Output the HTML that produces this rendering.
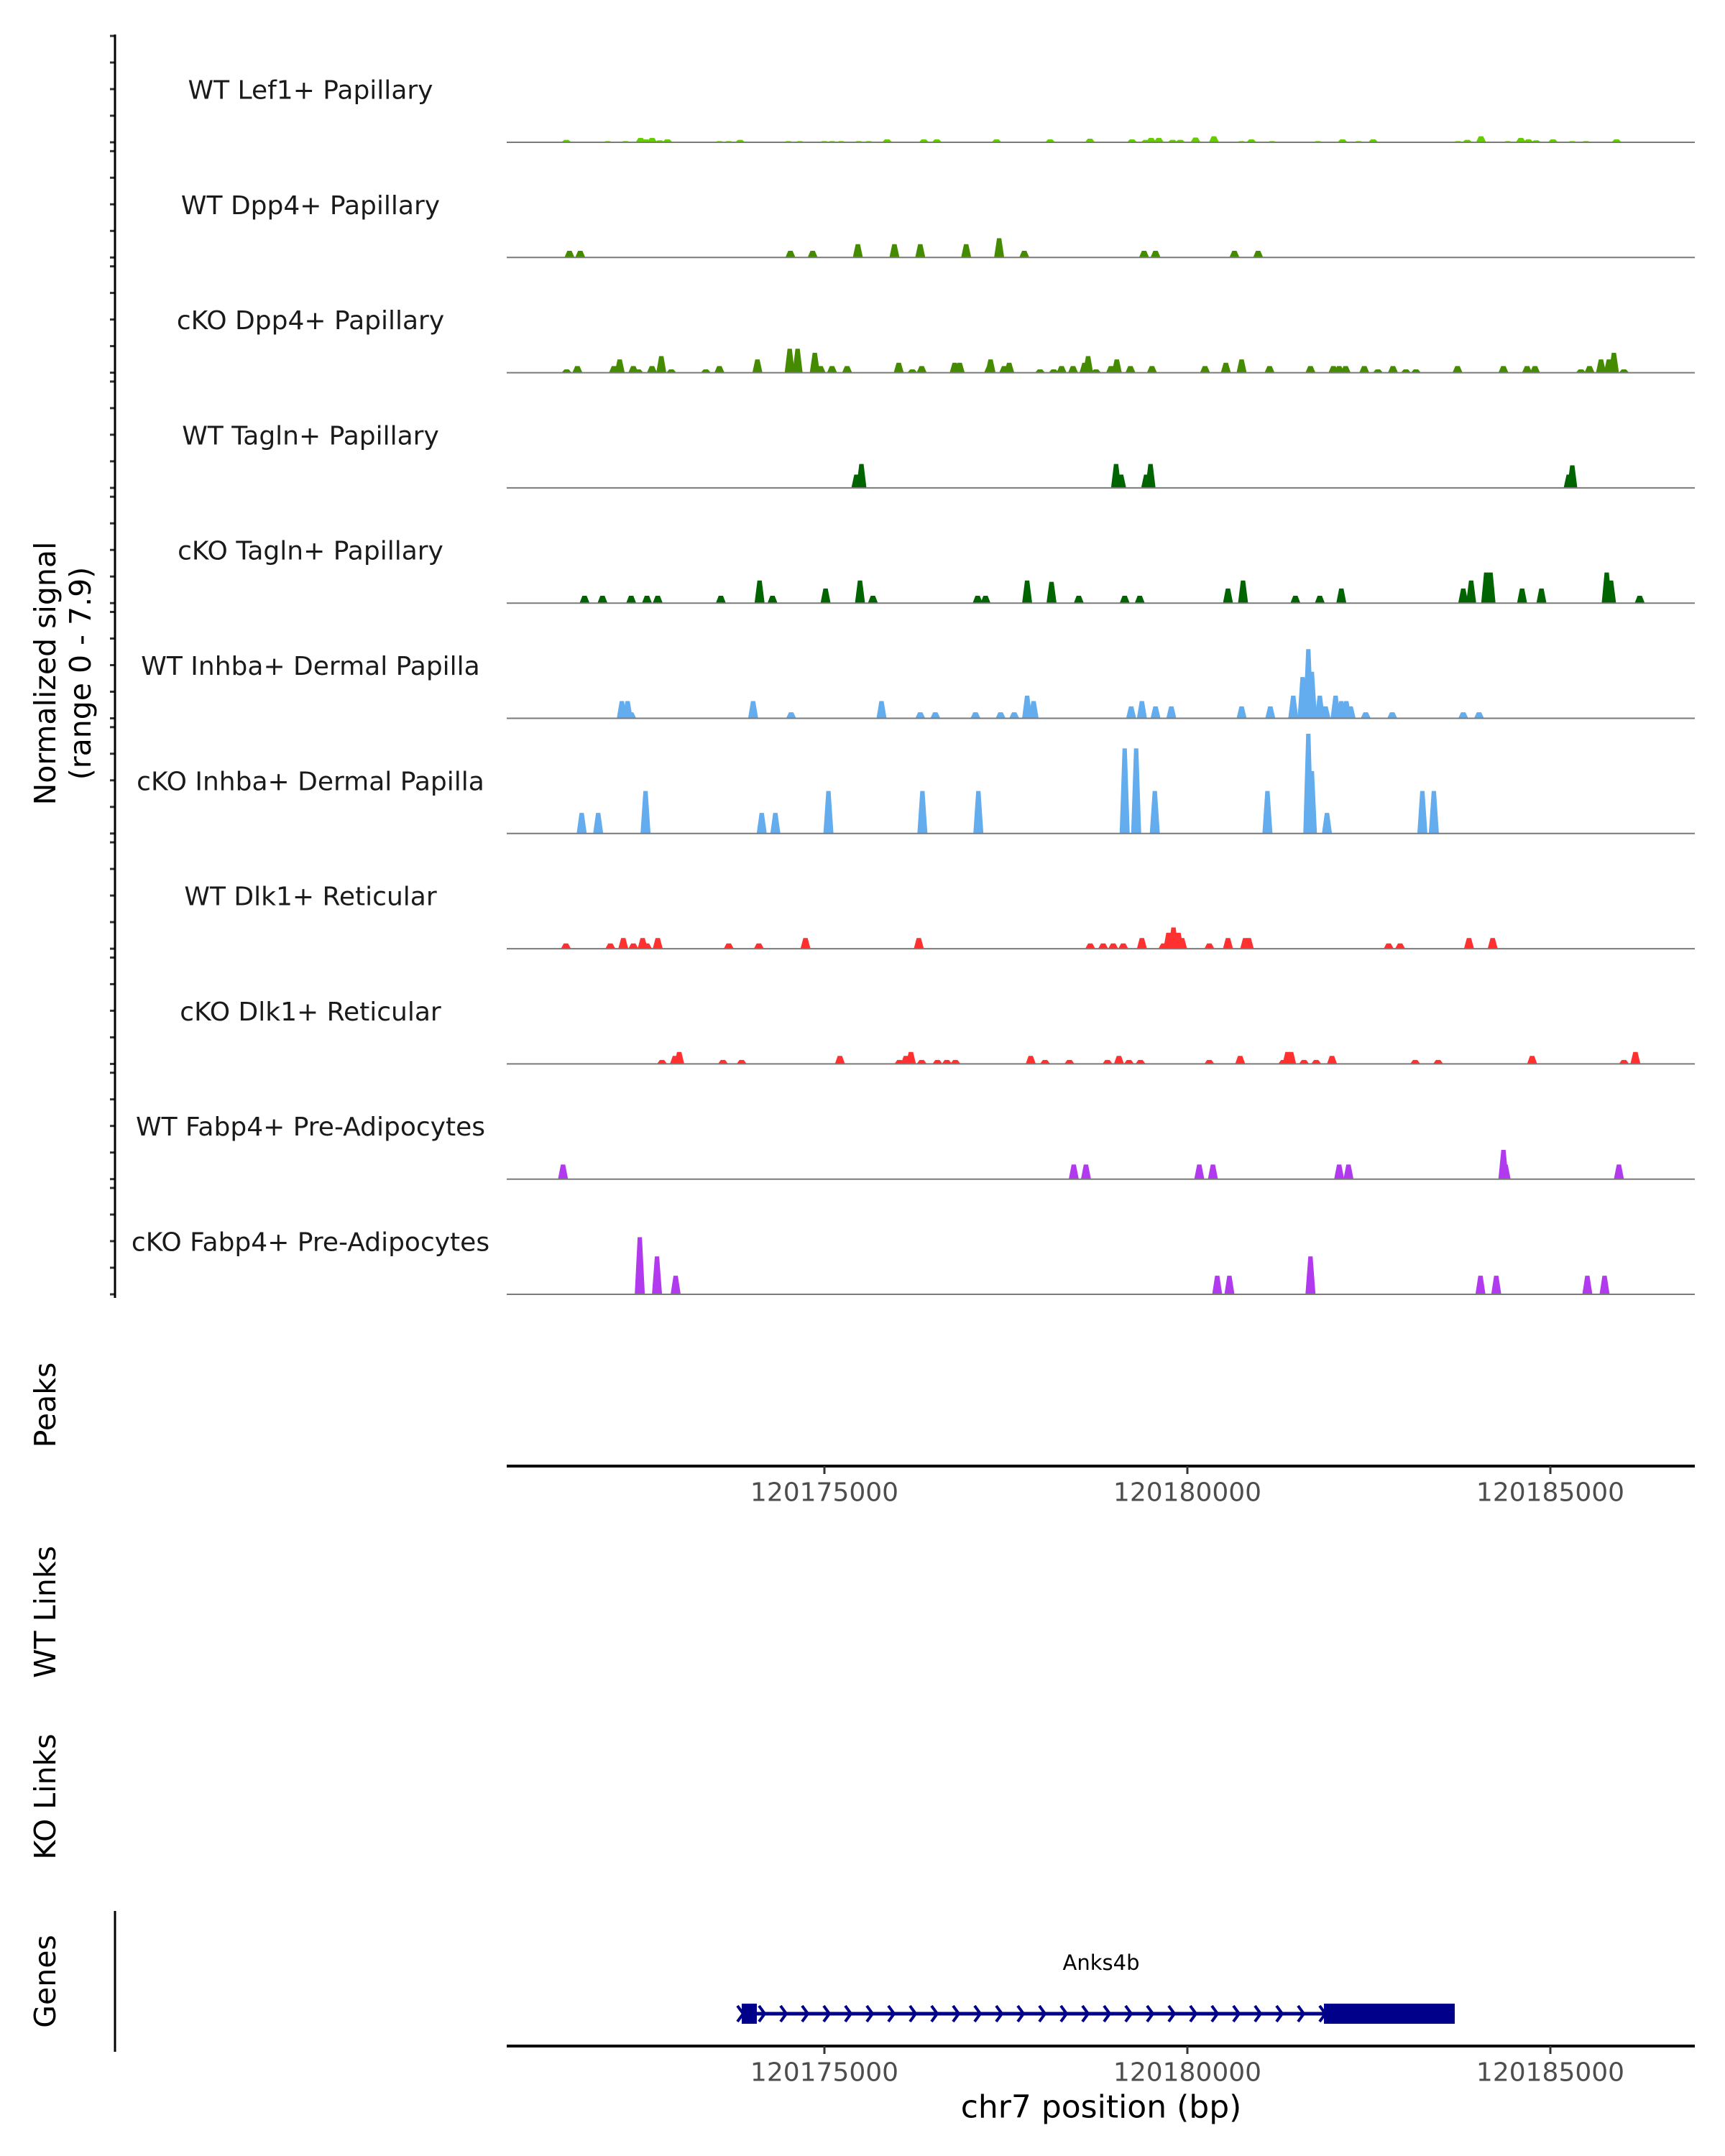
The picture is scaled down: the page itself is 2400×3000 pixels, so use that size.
<!DOCTYPE html>
<html><head><meta charset="utf-8"><style>
html,body{margin:0;padding:0;background:#fff;}
svg{display:block;font-family:"DejaVu Sans","Liberation Sans",sans-serif;}
</style></head><body>
<svg id="chart" width="2400" height="3000" viewBox="0 0 2400 3000" xmlns="http://www.w3.org/2000/svg">
<g id="tracks"></g>
<g>
<text x="63" y="937" font-size="41" text-anchor="middle" dominant-baseline="central" transform="rotate(-90 63 937)" fill="#000">Normalized signal</text>
<text x="112" y="937" font-size="41" text-anchor="middle" dominant-baseline="central" transform="rotate(-90 112 937)" fill="#000">(range 0 - 7.9)</text>
</g>
<line x1="160" y1="48" x2="160" y2="1806" stroke="#000" stroke-width="3"/>
<text x="63" y="1955" font-size="41" text-anchor="middle" dominant-baseline="central" transform="rotate(-90 63 1955)">Peaks</text>
<text x="63" y="2243" font-size="41" text-anchor="middle" dominant-baseline="central" transform="rotate(-90 63 2243)">WT Links</text>
<text x="63" y="2500" font-size="41" text-anchor="middle" dominant-baseline="central" transform="rotate(-90 63 2500)">KO Links</text>
<text x="63" y="2757" font-size="41" text-anchor="middle" dominant-baseline="central" transform="rotate(-90 63 2757)">Genes</text>
<line x1="160" y1="2659" x2="160" y2="2855" stroke="#000" stroke-width="3"/>
<g id="xaxes"></g>
<g id="gene"></g>
<text x="1532" y="2932" font-size="44" text-anchor="middle" dominant-baseline="central">chr7 position (bp)</text>
</svg>
<script>
// genomic positions in kb offset from 120170000; values in normalized signal
const trackNames = ["WT Lef1+ Papillary","WT Dpp4+ Papillary","cKO Dpp4+ Papillary","WT Tagln+ Papillary","cKO Tagln+ Papillary","WT Inhba+ Dermal Papilla","cKO Inhba+ Dermal Papilla","WT Dlk1+ Reticular","cKO Dlk1+ Reticular","WT Fabp4+ Pre-Adipocytes","cKO Fabp4+ Pre-Adipocytes"];
const trackColors = ["#66CC00","#458B00","#458B00","#006400","#006400","#63ACEE","#63ACEE","#FF3030","#FF3030","#B23AEE","#B23AEE"];
const lef1WtPos = [1.357,1.933,2.179,2.392,2.467,2.552,2.659,2.766,3.491,3.619,3.779,4.452,4.612,4.953,5.060,5.188,5.433,5.572,5.828,6.340,6.522,7.354,8.101,8.656,9.242,9.434,9.509,9.616,9.808,9.915,10.128,10.384,10.768,10.907,11.195,11.835,12.177,12.401,12.604,13.788,13.916,14.108,14.481,14.663,14.769,14.876,15.111,15.378,15.570,15.997];
const lef1WtVal = [0.18,0.09,0.09,0.33,0.22,0.33,0.15,0.22,0.09,0.09,0.18,0.09,0.09,0.09,0.09,0.09,0.09,0.09,0.22,0.22,0.22,0.22,0.22,0.27,0.22,0.18,0.33,0.33,0.18,0.18,0.36,0.45,0.09,0.22,0.09,0.09,0.22,0.09,0.22,0.09,0.18,0.45,0.09,0.33,0.22,0.15,0.22,0.09,0.09,0.22];
const dpp4WtPos = [1.40,1.55,4.48,4.79,5.42,5.93,6.29,6.93,7.39,7.74,9.41,9.57,10.67,11.00];
const dpp4WtVal = [0.5,0.5,0.5,0.5,1.0,1.0,1.0,1.0,1.45,0.5,0.5,0.5,0.5,0.5];
const dpp4KoPos = [1.36,1.51,2.02,2.10,2.29,2.36,2.55,2.68,2.82,3.30,3.49,4.02,4.47,4.58,4.82,4.90,5.06,5.27,5.99,6.18,6.31,6.77,6.84,7.25,7.27,7.46,7.53,7.96,8.15,8.26,8.42,8.58,8.63,8.74,8.95,9.03,9.22,9.52,10.26,10.55,10.77,11.16,11.73,12.05,12.13,12.22,12.48,12.67,12.88,13.06,13.20,13.78,14.42,14.75,14.86,15.50,15.62,15.78,15.89,15.96,16.10];
const dpp4KoVal = [0.25,0.5,0.5,1.0,0.5,0.25,0.5,1.25,0.25,0.25,0.5,1.0,1.8,1.8,1.5,0.5,0.5,0.5,0.75,0.25,0.5,0.75,0.75,0.5,1.0,0.5,0.75,0.25,0.25,0.5,0.5,0.75,1.25,0.25,0.5,1.0,0.5,0.5,0.5,0.75,1.0,0.5,0.5,0.5,0.5,0.5,0.5,0.25,0.5,0.25,0.25,0.5,0.5,0.5,0.5,0.25,0.5,1.0,1.0,1.5,0.25];
const taglnWtPos = [5.40,5.47,9.02,9.09,9.44,9.50,15.33,15.38];
const taglnWtVal = [1.0,1.8,1.8,1.0,1.0,1.8,1.0,1.7];
const taglnKoPos = [1.61,1.86,2.26,2.48,2.63,3.51,4.05,4.23,4.97,5.45,5.63,7.09,7.20,7.78,8.12,8.50,9.14,9.35,10.58,10.79,11.52,11.86,12.16,13.86,13.97,14.18,14.24,14.68,14.95,15.86,15.92,16.32];
const taglnKoVal = [0.55,0.55,0.55,0.55,0.55,0.55,1.7,0.55,1.1,1.7,0.55,0.55,0.55,1.7,1.6,0.55,0.55,0.55,1.1,1.7,0.55,0.55,1.1,1.1,1.7,2.3,2.3,1.1,1.1,2.3,1.7,0.55];
const inhbaWtPos = [2.13,2.21,2.26,3.96,4.49,5.75,6.29,6.50,7.06,7.41,7.60,7.78,7.87,9.23,9.38,9.57,9.79,10.77,11.17,11.49,11.62,11.70,11.75,11.86,11.94,12.08,12.16,12.23,12.29,12.50,12.87,13.86,14.08];
const inhbaWtVal = [1.3,1.3,0.45,1.3,0.45,1.3,0.45,0.45,0.45,0.45,0.45,1.7,1.3,0.9,1.3,0.9,0.9,0.9,0.9,1.7,3.1,5.2,3.5,1.7,0.9,1.7,1.3,1.3,0.9,0.45,0.45,0.45,0.45];
const inhbaKoPos = [1.57,1.80,2.46,4.08,4.27,5.01,6.32,7.10,9.14,9.30,9.56,11.13,11.70,11.75,11.96,13.29,13.45];
const inhbaKoVal = [1.55,1.55,3.2,1.55,1.55,3.2,3.2,3.2,6.4,6.4,3.2,3.2,7.5,4.7,1.55,3.2,3.2];
const dlk1WtPos = [1.35,1.97,2.15,2.29,2.42,2.48,2.63,3.62,4.04,4.69,6.27,8.66,8.84,8.98,9.12,9.38,9.68,9.75,9.82,9.89,9.94,10.32,10.58,10.82,10.87,12.82,12.98,13.94,14.27];
const dlk1WtVal = [0.4,0.4,0.8,0.4,0.8,0.4,0.8,0.4,0.4,0.8,0.8,0.4,0.4,0.4,0.4,0.8,0.4,1.2,1.6,1.2,0.8,0.4,0.8,0.8,0.8,0.4,0.4,0.8,0.8];
const dlk1KoPos = [2.69,2.87,2.93,3.54,3.80,5.17,6.00,6.09,6.16,6.31,6.53,6.66,6.78,7.83,8.03,8.37,8.90,9.06,9.20,9.36,10.32,10.75,11.35,11.41,11.46,11.64,11.81,12.03,13.19,13.51,14.82,16.10,16.26];
const dlk1KoVal = [0.3,0.6,0.9,0.3,0.3,0.6,0.3,0.6,0.9,0.3,0.3,0.3,0.3,0.6,0.3,0.3,0.3,0.6,0.3,0.3,0.3,0.6,0.3,0.9,0.9,0.3,0.3,0.6,0.3,0.3,0.6,0.3,0.9];
const fabp4WtPos = [1.31,8.43,8.60,10.18,10.37,12.13,12.26,14.42,14.45,16.03];
const fabp4WtVal = [1.1,1.1,1.1,1.1,1.1,1.1,1.1,2.2,1.1,1.1];
const fabp4KoPos = [2.38,2.62,2.88,10.43,10.60,11.73,14.10,14.32,15.59,15.83];
const fabp4KoVal = [4.3,2.85,1.4,1.4,1.4,2.85,1.4,1.4,1.4,1.4];
const trackPos = [lef1WtPos,dpp4WtPos,dpp4KoPos,taglnWtPos,taglnKoPos,inhbaWtPos,inhbaKoPos,dlk1WtPos,dlk1KoPos,fabp4WtPos,fabp4KoPos];
const trackVal = [lef1WtVal,dpp4WtVal,dpp4KoVal,taglnWtVal,taglnKoVal,inhbaWtVal,inhbaKoVal,dlk1WtVal,dlk1KoVal,fabp4WtVal,fabp4KoVal];
const xTicks = [120175000,120180000,120185000];
const geneStart = 120173861, geneEnd = 120183683;
const exonStarts = [120173861,120181881];
const exonEnds = [120174069,120183683];

const NS = "http://www.w3.org/2000/svg";
const X0 = 705, X1 = 2358;
function xScale(bp){ return 1147 + (bp - 120175000) * 0.101; }
function xKb(kb){ return 705 + (kb - 0.525) * 99.8; }
function yScale(v, base){ return base - v * 18.5; }
function mk(tag, attrs, parent){ const e=document.createElementNS(NS,tag); for(const k in attrs) e.setAttribute(k,attrs[k]); parent.appendChild(e); return e; }

const tracks = document.getElementById("tracks");
for (let i=0;i<trackNames.length;i++){
  const base = 198 + i*160.3;
  const g = mk("g",{},tracks);
  
  
  for (let k=0;k<5;k++){
    const t = mk("line",{x1:153,x2:160,y1:base-k*37,y2:base-k*37,stroke:"#333","stroke-width":3},g);
    
    
  }
  const lab = mk("text",{x:432,y:base-72,"font-size":36,"text-anchor":"middle","dominant-baseline":"central",fill:"#1a1a1a"},g);
  lab.textContent = trackNames[i];
  
  
  const pos = trackPos[i], val = trackVal[i];
  for (let j=0;j<pos.length;j++){
    const cx = xKb(pos[j]), top = yScale(val[j], base);
    const p = mk("polygon",{points:`${cx-7},${base} ${cx-3},${top} ${cx+3},${top} ${cx+7},${base}`,fill:trackColors[i]},g);
    
    
  }
  const bl = mk("line",{x1:X0,x2:X1,y1:base,y2:base,stroke:"#7a7a7a","stroke-width":2},g);
  
  
}

const xa = document.getElementById("xaxes");
[2040, 2847].forEach(function(ay){
  const l = mk("line",{x1:X0,x2:X1,y1:ay,y2:ay,stroke:"#000","stroke-width":4},xa);
  
  
  xTicks.forEach(function(t){
    const x = xScale(t);
    const tk = mk("line",{x1:x,x2:x,y1:ay,y2:ay+11,stroke:"#333","stroke-width":3},xa);
    
    
    const tl = mk("text",{x:x,y:ay+37,"font-size":36,"text-anchor":"middle","dominant-baseline":"central",fill:"#4d4d4d"},xa);
    tl.textContent = String(t);
    
    
  });
});

const gg = document.getElementById("gene");
const gy = 2802;
const gl = mk("line",{x1:xScale(geneStart),x2:xScale(geneEnd),y1:gy,y2:gy,stroke:"#00008B","stroke-width":5},gg);


for (let x = xScale(geneStart)-2; x < xScale(exonStarts[1]); x += 30){
  const c = mk("polyline",{points:`${x-4},${gy-11} ${x+4},${gy} ${x-4},${gy+11}`,fill:"none",stroke:"#00008B","stroke-width":4},gg);
  
  
}
for (let e=0;e<exonStarts.length;e++){
  const r = mk("rect",{x:xScale(exonStarts[e]),y:gy-14,width:xScale(exonEnds[e])-xScale(exonStarts[e]),height:28,fill:"#00008B"},gg);
  
  
}
const gn = mk("text",{x:1532,y:2731,"font-size":29,"text-anchor":"middle","dominant-baseline":"central",fill:"#000"},gg);
gn.textContent = "Anks4b";


</script>
</body></html>
